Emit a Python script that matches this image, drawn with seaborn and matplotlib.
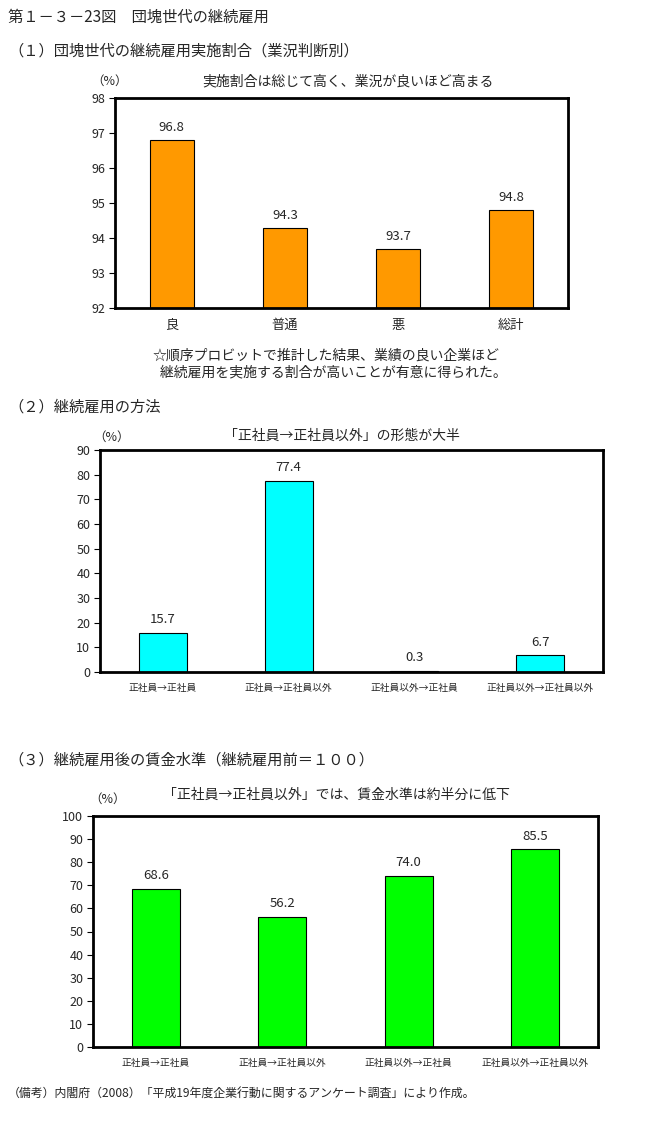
import matplotlib
matplotlib.use("Agg")
import matplotlib.pyplot as plt
import seaborn as sns
import numpy as np

sns.set_theme(style="white")
plt.rcParams['font.family'] = ['Noto Sans CJK JP', 'DejaVu Sans']

# ---- data ----
fig_title = "第１－３－23図　団塊世代の継続雇用"

p1_title = "（１）団塊世代の継続雇用実施割合（業況判断別）"
p1_sub = "実施割合は総じて高く、業況が良いほど高まる"
p1_cats = ["良", "普通", "悪", "総計"]
p1_vals = [96.8, 94.3, 93.7, 94.8]
p1_ticks = [92, 93, 94, 95, 96, 97, 98]
p1_note = "☆順序プロビットで推計した結果、業績の良い企業ほど\n　継続雇用を実施する割合が高いことが有意に得られた。"

p2_title = "（２）継続雇用の方法"
p2_sub = "「正社員→正社員以外」の形態が大半"
p2_cats = ["正社員→正社員", "正社員→正社員以外", "正社員以外→正社員", "正社員以外→正社員以外"]
p2_vals = [15.7, 77.4, 0.3, 6.7]
p2_ticks = [0, 10, 20, 30, 40, 50, 60, 70, 80, 90]

p3_title = "（３）継続雇用後の賃金水準（継続雇用前＝１００）"
p3_sub = "「正社員→正社員以外」では、賃金水準は約半分に低下"
p3_cats = ["正社員→正社員", "正社員→正社員以外", "正社員以外→正社員", "正社員以外→正社員以外"]
p3_vals = [68.6, 56.2, 74.0, 85.5]
p3_ticks = [0, 10, 20, 30, 40, 50, 60, 70, 80, 90, 100]

footnote = "（備考）内閣府（2008）「平成19年度企業行動に関するアンケート調査」により作成。"

W, H = 659, 1122
fig = plt.figure(figsize=(W / 100, H / 100), dpi=100)
fig.patch.set_facecolor("white")


def px_axes(left, right, top, bottom):
    return fig.add_axes([left / W, 1 - bottom / H, (right - left) / W, (bottom - top) / H])


def ftext(x, y, s, **kw):
    fig.text(x / W, 1 - y / H, s, **kw)


def panel(ax, cats, vals, ticks, color, width, xfs, label_gap):
    sns.barplot(x=cats, y=vals, color=color, saturation=1, width=width,
                edgecolor="black", linewidth=0.8, ax=ax)
    ax.set_ylim(ticks[0], ticks[-1])
    ax.set_xlim(-0.5, len(cats) - 0.5)
    ax.set_yticks(ticks)
    ax.set_yticklabels([str(t) for t in ticks], fontsize=9)
    ax.set_xticks(range(len(cats)))
    ax.set_xticklabels(cats, fontsize=xfs)
    ax.set_xticks(np.arange(0.5, len(cats) - 0.5, 1.0), minor=True)
    ax.tick_params(axis="x", which="major", length=0, pad=8)
    ax.tick_params(axis="x", which="minor", direction="in", length=4, width=0.8, color="black")
    ax.tick_params(axis="y", which="major", direction="out", length=4, width=0.8,
                   color="black", left=True, pad=3)
    ax.set_xlabel("")
    ax.set_ylabel("")
    for s in ax.spines.values():
        s.set_visible(True)
        s.set_color("black")
        s.set_linewidth(2)
    ax.grid(False)
    for i, v in enumerate(vals):
        ax.annotate(f"{v:.1f}", (i, v), xytext=(0, label_gap), textcoords="offset points",
                    ha="center", va="bottom", fontsize=9.5)


# headers
ftext(8, 17, fig_title, fontsize=11, va="center")
ftext(8, 51, p1_title, fontsize=11, va="center")

# Panel 1
ax1 = px_axes(115, 568, 98, 308)
panel(ax1, p1_cats, p1_vals, p1_ticks, "#FF9900", 0.39, 9.5, 4)
ftext(348, 81, p1_sub, fontsize=10, ha="center", va="center")
ftext(110, 81, "（%）", fontsize=9, ha="center", va="center")
ftext(326, 364, p1_note, fontsize=10, ha="center", va="center", linespacing=1.3)

# Panel 2
ftext(8, 407, p2_title, fontsize=11, va="center")
ax2 = px_axes(100, 603, 450, 672)
panel(ax2, p2_cats, p2_vals, p2_ticks, "#00FFFF", 0.38, 7, 5)
ftext(342, 436, p2_sub, fontsize=10, ha="center", va="center")
ftext(112, 437, "（%）", fontsize=9, ha="center", va="center")

# Panel 3
ftext(8, 760, p3_title, fontsize=11, va="center")
ax3 = px_axes(93, 598, 816, 1047)
panel(ax3, p3_cats, p3_vals, p3_ticks, "#00FF00", 0.38, 7, 5)
ftext(336, 795, p3_sub, fontsize=10, ha="center", va="center")
ftext(108, 799, "（%）", fontsize=9, ha="center", va="center")

ftext(8, 1093, footnote, fontsize=8.6, va="center")

fig.savefig("out.png", dpi=100, facecolor="white")
